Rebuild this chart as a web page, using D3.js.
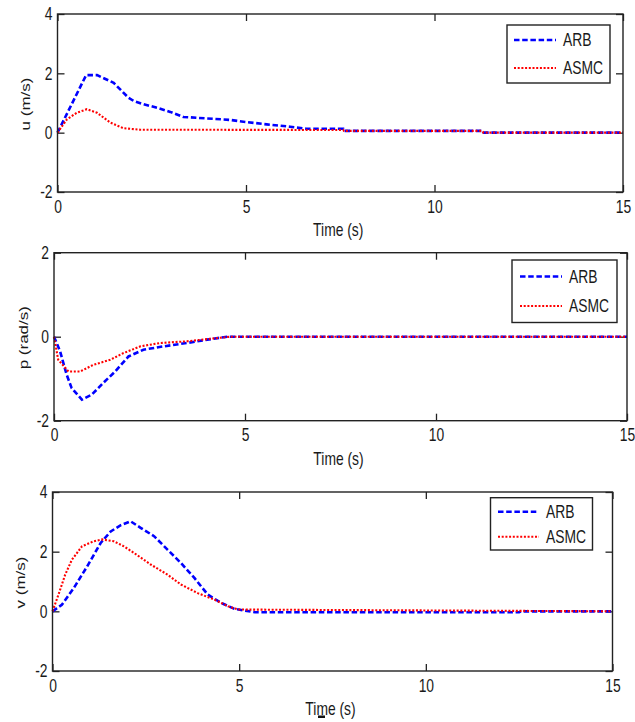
<!DOCTYPE html>
<html>
<head>
<meta charset="utf-8">
<script src="https://cdn.jsdelivr.net/npm/d3@7"></script>
<style>
  html, body { margin: 0; padding: 0; background: #fff; }
  svg { display: block; }
</style>
</head>
<body>
<div id="chart"></div>
<script>
// shared time axis
const xTicks = [0, 5, 10, 15];
const seriesNames = ["ARB", "ASMC"];

// u (m/s)
const uArbTime = [0, 0.76, 1.05, 1.49, 1.88, 2.02, 2.28, 2.64, 2.99, 3.34, 3.96, 4.58, 4.93, 5.55, 6.17, 6.6, 7.58, 7.6, 11.26, 11.3, 15];
const uArb = [0, 1.94, 1.94, 1.68, 1.18, 1.07, 0.96, 0.84, 0.70, 0.53, 0.48, 0.43, 0.37, 0.28, 0.20, 0.13, 0.13, 0.06, 0.06, 0, 0];
const uAsmcTime = [0, 0.25, 0.51, 0.78, 1.05, 1.40, 1.75, 2.19, 7.58, 7.6, 11.26, 11.3, 15];
const uAsmc = [0, 0.45, 0.67, 0.79, 0.67, 0.34, 0.15, 0.10, 0.09, 0.06, 0.06, 0, 0];
const uTicks = [-2, 0, 2, 4];

// p (rad/s)
const pArbTime = [0, 0.16, 0.33, 0.46, 0.73, 0.99, 1.29, 1.60, 1.95, 2.34, 2.87, 3.48, 4.01, 4.53, 15];
const pArb = [0, -0.35, -0.90, -1.22, -1.50, -1.38, -1.10, -0.83, -0.47, -0.31, -0.23, -0.15, -0.07, 0, 0];
const pAsmcTime = [0, 0.11, 0.38, 0.68, 1.03, 1.47, 1.82, 2.26, 2.78, 3.48, 4.09, 4.62, 15];
const pAsmc = [0, -0.55, -0.83, -0.83, -0.67, -0.55, -0.39, -0.23, -0.15, -0.11, -0.05, 0, 0];
const pTicks = [-2, 0, 2];

// v (m/s)
const vArbTime = [0, 0.25, 0.57, 0.93, 1.29, 1.56, 1.82, 2.09, 2.36, 2.72, 3.08, 3.44, 3.80, 4.16, 4.52, 4.88, 5.42, 12.5, 12.55, 15];
const vArb = [0, 0.22, 0.78, 1.51, 2.29, 2.68, 2.88, 3.02, 2.80, 2.52, 2.07, 1.62, 1.12, 0.56, 0.28, 0.08, -0.03, -0.03, 0, 0];
const vAsmcTime = [0, 0.16, 0.34, 0.52, 0.79, 1.11, 1.33, 1.64, 1.91, 2.18, 2.63, 3.08, 3.44, 3.89, 4.34, 4.70, 4.97, 15];
const vAsmc = [0, 0.56, 1.23, 1.73, 2.18, 2.35, 2.41, 2.35, 2.18, 1.96, 1.57, 1.23, 0.90, 0.61, 0.39, 0.17, 0.06, 0];
const vTicks = [-2, 0, 2, 4];

const width = 635;
const height = 722;
const font = "'Liberation Sans', Arial, sans-serif";
const textColor = "#1a1a1a";
const sx = 0.77;   // the source picture is squeezed horizontally
const tickLen = 7;
const plainNum = d => String(d);   // hyphen minus like MATLAB, not U+2212

const panels = [
  {
    yLabel: "u (m/s)", yTicks: uTicks,
    arb: { t: uArbTime, v: uArb }, asmc: { t: uAsmcTime, v: uAsmc },
    box: { left: 57.5, right: 623, top: 14, bottom: 192 },
    yLabelX: 25,
    legend: { x: 507, y: 25, w: 103, h: 58, row1: 15, gap: 28, line0: 7, line1: 49, text: 56 }
  },
  {
    yLabel: "p (rad/s)", yTicks: pTicks,
    arb: { t: pArbTime, v: pArb }, asmc: { t: pAsmcTime, v: pAsmc },
    box: { left: 54, right: 627, top: 252.7, bottom: 420.7 },
    yLabelX: 23,
    legend: { x: 512, y: 260, w: 105, h: 62.5, row1: 16.5, gap: 29.5, line0: 8, line1: 50, text: 57 }
  },
  {
    yLabel: "v (m/s)", yTicks: vTicks,
    arb: { t: vArbTime, v: vArb }, asmc: { t: vAsmcTime, v: vAsmc },
    box: { left: 52.5, right: 612.5, top: 492, bottom: 671 },
    yLabelX: 20,
    legend: { x: 490.5, y: 497.7, w: 102, h: 52.3, row1: 14, gap: 25, line0: 7.5, line1: 48.5, text: 55.5 }
  }
];

const styles = {
  ARB: { color: "#0000ff", width: 2.6, dash: "5.5,2.7" },
  ASMC: { color: "#ff0000", width: 2.1, dash: "2,1.7" }
};

const svg = d3.select("#chart")
  .append("svg")
  .attr("width", width)
  .attr("height", height)
  .style("background-color", "white");

function squeezeText(sel, shiftX) {
  sel.attr("transform", `scale(${sx},1)`)
    .attr("font-family", font)
    .attr("font-size", 18)
    .attr("fill", textColor);
  if (shiftX) {
    sel.each(function() {
      const t = d3.select(this);
      t.attr("x", +t.attr("x") / sx);
    });
  }
}

panels.forEach(p => {
  const b = p.box;
  const x = d3.scaleLinear().domain([0, 15]).range([b.left, b.right]);
  const y = d3.scaleLinear().domain([d3.min(p.yTicks), d3.max(p.yTicks)]).range([b.bottom, b.top]);

  const g = svg.append("g");

  // Eixos com marcas para dentro (estilo MATLAB)
  const bottom = g.append("g")
    .attr("transform", `translate(0,${b.bottom})`)
    .call(d3.axisBottom(x).tickValues(xTicks).tickSizeInner(-tickLen).tickSizeOuter(0).tickPadding(8).tickFormat(plainNum));
  const top = g.append("g")
    .attr("transform", `translate(0,${b.top})`)
    .call(d3.axisTop(x).tickValues(xTicks).tickSizeInner(-tickLen).tickSizeOuter(0).tickFormat(""));
  const left = g.append("g")
    .attr("transform", `translate(${b.left},0)`)
    .call(d3.axisLeft(y).tickValues(p.yTicks).tickSizeInner(-tickLen).tickSizeOuter(0).tickPadding(5).tickFormat(plainNum));
  const right = g.append("g")
    .attr("transform", `translate(${b.right},0)`)
    .call(d3.axisRight(y).tickValues(p.yTicks).tickSizeInner(-tickLen).tickSizeOuter(0).tickFormat(""));

  [bottom, top, left, right].forEach(a => {
    a.select(".domain").remove();
    a.selectAll(".tick line").attr("stroke", "#222").attr("stroke-width", 1.3);
  });
  squeezeText(bottom.selectAll("text"), false);
  squeezeText(left.selectAll("text"), true);

  // Curvas
  const line = d3.line().x(d => x(d[0])).y(d => y(d[1]));
  [["ARB", p.arb], ["ASMC", p.asmc]].forEach(([name, s]) => {
    const st = styles[name];
    g.append("path")
      .datum(d3.zip(s.t, s.v))
      .attr("d", line)
      .attr("fill", "none")
      .attr("stroke", st.color)
      .attr("stroke-width", st.width)
      .attr("stroke-dasharray", st.dash);
  });

  // Moldura
  g.append("rect")
    .attr("x", b.left)
    .attr("y", b.top)
    .attr("width", b.right - b.left)
    .attr("height", b.bottom - b.top)
    .attr("fill", "none")
    .attr("stroke", "#222")
    .attr("stroke-width", 1.4);

  // Rótulo do eixo X
  g.append("text")
    .attr("x", ((b.left + b.right) / 2 - 2) / sx)
    .attr("y", b.bottom + 44)
    .attr("text-anchor", "middle")
    .call(squeezeText, false)
    .text("Time (s)");

  // Rótulo do eixo Y
  g.append("text")
    .attr("transform", `translate(${p.yLabelX},${(b.top + b.bottom) / 2 + 1}) rotate(-90) scale(1,${sx})`)
    .attr("text-anchor", "middle")
    .attr("dy", "0.35em")
    .attr("font-family", font)
    .attr("font-size", 17)
    .attr("fill", textColor)
    .text(p.yLabel);

  // Legenda
  const L = p.legend;
  const lg = g.append("g").attr("transform", `translate(${L.x},${L.y})`);
  lg.append("rect")
    .attr("width", L.w)
    .attr("height", L.h)
    .attr("fill", "white")
    .attr("stroke", "#222")
    .attr("stroke-width", 1.4);
  seriesNames.forEach((name, i) => {
    const st = styles[name];
    const ry = L.row1 + i * L.gap;
    lg.append("line")
      .attr("x1", L.line0).attr("x2", L.line1)
      .attr("y1", ry).attr("y2", ry)
      .attr("stroke", st.color)
      .attr("stroke-width", st.width)
      .attr("stroke-dasharray", st.dash);
    lg.append("text")
      .attr("x", L.text / sx)
      .attr("y", ry + 6.5)
      .call(squeezeText, false)
      .text(name);
  });
});

// pequena marca sob o último rótulo
svg.append("rect")
  .attr("x", 318).attr("y", 715.5)
  .attr("width", 7).attr("height", 2.5)
  .attr("fill", "#111");
</script>
</body>
</html>
